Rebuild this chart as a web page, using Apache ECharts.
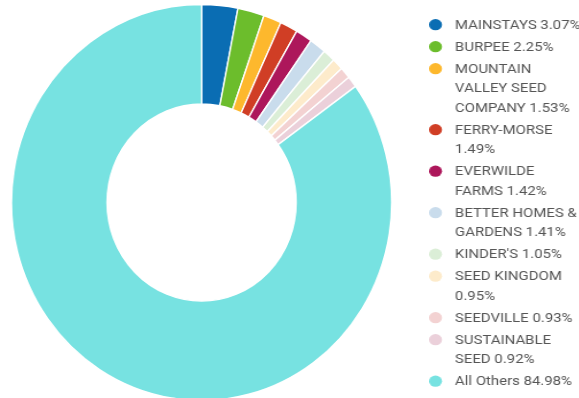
<!DOCTYPE html>
<html><head><meta charset="utf-8">
<script src="https://cdn.jsdelivr.net/npm/echarts@6/dist/echarts.min.js"></script>
<style>
html,body{margin:0;padding:0;background:#fff;overflow:hidden;width:579px;height:398px}
#pie{position:absolute;left:0;top:0;width:579px;height:398px;transform:scaleX(0.96);transform-origin:0 0}
#leg{position:absolute;left:429px;top:0;width:140px;height:398px;transform:scaleX(1.15);transform-origin:0 0}
</style>
</head><body><div id="pie"></div><div id="leg"></div>
<script>
var names = ["MAINSTAYS","BURPEE","MOUNTAIN VALLEY SEED COMPANY","FERRY-MORSE","EVERWILDE FARMS","BETTER HOMES & GARDENS","KINDER'S","SEED KINGDOM","SEEDVILLE","SUSTAINABLE SEED","All Others"];
var values = [3.07,2.25,1.53,1.49,1.42,1.41,1.05,0.95,0.93,0.92,84.98];
var colors = ["#0a6db3","#6cbd2c","#fdb82d","#d03e25","#ad175b","#c9dcec","#dbeed7","#fdebcb","#f3d2d2","#ebd0da","#77e2e1"];
var data = names.map(function(n,i){return {name:n,value:values[i],itemStyle:{color:colors[i]}};});

var FONT = 13, LH = 19.5, GAP = 2.5, TW = 111, FIRST = 25.5, ICON_H = 13, ICON_W = 11.3;
function label(n){var i=names.indexOf(n);return n+' '+values[i].toFixed(2)+'%';}

var pie = echarts.init(document.getElementById('pie'));
pie.setOption({
  animation:false,
  series:[{
    type:'pie', center:[210,202.5], radius:[98.5,198], startAngle:90, clockwise:true,
    label:{show:false}, labelLine:{show:false},
    itemStyle:{borderColor:'#fff',borderWidth:1.5},
    emphasis:{disabled:true},
    data:data
  }]
});

// count wrapped lines of each legend label (word wrap like overflow:'break')
var ctx = document.createElement('canvas').getContext('2d');
ctx.font = FONT + 'px Roboto';
function lineCount(t){
  var words = t.split(' '), lines = 1, cur = '';
  words.forEach(function(w){
    var test = cur ? cur + ' ' + w : w;
    if (cur && ctx.measureText(test).width > TW) { lines++; cur = w; } else { cur = test; }
  });
  return lines;
}

var legends = [];
// text legend (icons hidden)
legends.push({
  orient:'vertical', left:17.6, top:FIRST - LH/2, itemGap:GAP, padding:0,
  icon:'rect', itemWidth:0, itemHeight:0,
  textStyle:{fontFamily:'Roboto', fontSize:FONT, color:'#555555', width:TW, overflow:'break', lineHeight:LH},
  formatter:label, data:names
});
// one icon per item, aligned with the first text line
var c = FIRST;
names.forEach(function(n){
  legends.push({
    orient:'vertical', left:0, top:c - ICON_H/2, padding:0,
    icon:'circle', itemWidth:ICON_W, itemHeight:ICON_H, symbolKeepAspect:false,
    textStyle:{fontSize:1, lineHeight:1},
    formatter:function(){return '';},
    data:[{name:n, icon:'circle'}]
  });
  c += lineCount(label(n)) * LH + GAP;
});

var leg = echarts.init(document.getElementById('leg'));
leg.setOption({
  animation:false,
  legend:legends,
  series:[{
    type:'pie', center:[-1000,-1000], radius:[0,1], silent:true,
    label:{show:false}, labelLine:{show:false},
    data:data
  }]
});
</script></body></html>
